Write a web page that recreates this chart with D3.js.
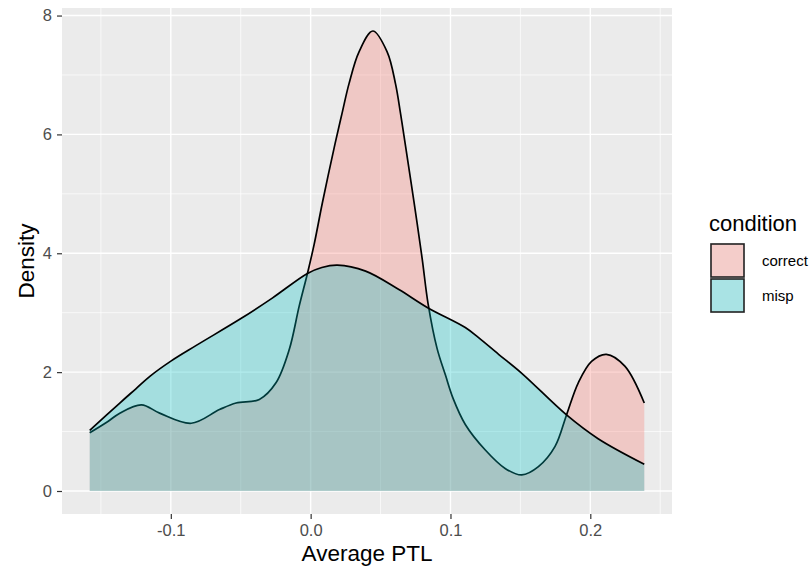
<!DOCTYPE html>
<html>
<head>
<meta charset="utf-8">
<script src="https://cdn.jsdelivr.net/npm/d3@7"></script>
<style>
  body { margin: 0; background: #fff; }
  svg { display: block; font-family: "Liberation Sans", Arial, Helvetica, sans-serif; }
</style>
</head>
<body>
<svg id="chart" width="811" height="569"></svg>
<script>
// ---- data ----
const conditions = ["correct", "misp"];
const fillColors = ["#F8766D", "#00BFC4"];

const correctX = [-0.158, -0.145, -0.1365, -0.121, -0.108, -0.0854, -0.0652, -0.0533, -0.0367, -0.0248, -0.0153, -0.0082, -0.0023, 0.0025, 0.0084, 0.0175, 0.0227, 0.0274, 0.0346, 0.0445, 0.0547, 0.0607, 0.0643, 0.0679, 0.0738, 0.0797, 0.084, 0.0904, 0.0964, 0.102, 0.1106, 0.1249, 0.1391, 0.151, 0.1629, 0.1748, 0.183, 0.1914, 0.2009, 0.2115, 0.2247, 0.2386];
const correctY = [0.98, 1.17, 1.31, 1.45, 1.31, 1.14, 1.37, 1.48, 1.54, 1.82, 2.38, 3.11, 3.66, 4.15, 4.85, 5.85, 6.38, 6.85, 7.39, 7.74, 7.39, 6.85, 6.35, 5.80, 4.88, 3.92, 3.15, 2.40, 1.95, 1.55, 1.12, 0.69, 0.38, 0.27, 0.41, 0.75, 1.28, 1.82, 2.18, 2.30, 2.10, 1.48];

const mispX = [-0.158, -0.1365, -0.125, -0.115, -0.0997, -0.0818, -0.0493, -0.0272, -0.0023, 0.008, 0.0191, 0.0393, 0.0631, 0.084, 0.1106, 0.1201, 0.1344, 0.151, 0.183, 0.2056, 0.2386];
const mispY = [1.02, 1.48, 1.72, 1.93, 2.19, 2.45, 2.91, 3.25, 3.66, 3.76, 3.80, 3.70, 3.39, 3.08, 2.75, 2.58, 2.30, 1.98, 1.28, 0.88, 0.45];

const xTicks = [-0.1, 0.0, 0.1, 0.2];
const xTickLabels = ["-0.1", "0.0", "0.1", "0.2"];
const xMinor = [-0.15, -0.05, 0.05, 0.15, 0.25];
const yTicks = [0, 2, 4, 6, 8];
const yTickLabels = ["0", "2", "4", "6", "8"];
const yMinor = [1, 3, 5, 7];

const xTitle = "Average PTL";
const yTitle = "Density";
const legendTitle = "condition";

// ---- layout ----
const svg = d3.select("#chart");
const panel = { left: 62, right: 672, top: 8, bottom: 514 };

const xMin = -0.158, xMax = 0.2386;
const xPad = (xMax - xMin) * 0.05;
const x = d3.scaleLinear().domain([xMin - xPad, xMax + xPad]).range([panel.left, panel.right]);
const yTop = 7.74, yPad = yTop * 0.05;
const y = d3.scaleLinear().domain([-yPad, yTop + yPad]).range([panel.bottom, panel.top]);

// panel background
svg.append("rect")
  .attr("x", panel.left).attr("y", panel.top)
  .attr("width", panel.right - panel.left).attr("height", panel.bottom - panel.top)
  .attr("fill", "#EBEBEB");

const grid = svg.append("g");
xMinor.forEach(v => grid.append("line")
  .attr("x1", x(v)).attr("x2", x(v)).attr("y1", panel.top).attr("y2", panel.bottom)
  .attr("stroke", "#fff").attr("stroke-width", 0.7));
yMinor.forEach(v => grid.append("line")
  .attr("y1", y(v)).attr("y2", y(v)).attr("x1", panel.left).attr("x2", panel.right)
  .attr("stroke", "#fff").attr("stroke-width", 0.7));
xTicks.forEach(v => grid.append("line")
  .attr("x1", x(v)).attr("x2", x(v)).attr("y1", panel.top).attr("y2", panel.bottom)
  .attr("stroke", "#fff").attr("stroke-width", 1.4));
yTicks.forEach(v => grid.append("line")
  .attr("y1", y(v)).attr("y2", y(v)).attr("x1", panel.left).attr("x2", panel.right)
  .attr("stroke", "#fff").attr("stroke-width", 1.4));

// densities
const series = [
  { name: conditions[0], xs: correctX, ys: correctY, color: fillColors[0] },
  { name: conditions[1], xs: mispX, ys: mispY, color: fillColors[1] }
];

const curve = d3.curveCatmullRom.alpha(0.5);
const area = d3.area()
  .x(d => x(d[0])).y0(y(0)).y1(d => y(d[1]))
  .curve(curve);
const line = d3.line()
  .x(d => x(d[0])).y(d => y(d[1]))
  .curve(curve);

series.forEach(s => {
  const pts = s.xs.map((v, i) => [v, s.ys[i]]);
  const g = svg.append("g");
  g.append("path").attr("d", area(pts))
    .attr("fill", s.color).attr("fill-opacity", 0.3).attr("stroke", "none");
  g.append("path").attr("d", line(pts))
    .attr("fill", "none").attr("stroke", "#000").attr("stroke-width", 1.7);
});

// axes
const xAxis = d3.axisBottom(x).tickValues(xTicks)
  .tickFormat((d, i) => xTickLabels[i]).tickSize(5).tickPadding(5);
const gx = svg.append("g").attr("transform", `translate(0,${panel.bottom})`).call(xAxis);
gx.select(".domain").remove();
gx.selectAll(".tick line").attr("stroke", "#333333").attr("stroke-width", 1.2);
gx.selectAll(".tick text").attr("fill", "#4D4D4D").attr("font-size", 16.5)
  .attr("font-family", "Liberation Sans, Arial, sans-serif");

const yAxis = d3.axisLeft(y).tickValues(yTicks)
  .tickFormat((d, i) => yTickLabels[i]).tickSize(5).tickPadding(5);
const gy = svg.append("g").attr("transform", `translate(${panel.left},0)`).call(yAxis);
gy.select(".domain").remove();
gy.selectAll(".tick line").attr("stroke", "#333333").attr("stroke-width", 1.2);
gy.selectAll(".tick text").attr("fill", "#4D4D4D").attr("font-size", 16.5)
  .attr("font-family", "Liberation Sans, Arial, sans-serif");

// axis titles
svg.append("text")
  .attr("x", (panel.left + panel.right) / 2).attr("y", 561)
  .attr("text-anchor", "middle").attr("font-size", 22.5).attr("fill", "#000")
  .text(xTitle);
svg.append("text")
  .attr("transform", `translate(34,${(panel.top + panel.bottom) / 2}) rotate(-90)`)
  .attr("text-anchor", "middle").attr("font-size", 22.5).attr("fill", "#000")
  .text(yTitle);

// legend
const leg = svg.append("g");
leg.append("text").attr("x", 709).attr("y", 231)
  .attr("font-size", 22).attr("fill", "#000").text(legendTitle);
const keyX = 710, keyY0 = 243, keySize = 35;
series.forEach((s, i) => {
  const ky = keyY0 + i * keySize;
  leg.append("rect").attr("x", keyX).attr("y", ky).attr("width", keySize).attr("height", keySize)
    .attr("fill", "#F2F2F2");
  leg.append("rect").attr("x", keyX + 1).attr("y", ky + 1).attr("width", keySize - 2).attr("height", keySize - 2)
    .attr("fill", s.color).attr("fill-opacity", 0.3)
    .attr("stroke", "#222").attr("stroke-width", 1.6);
  leg.append("text").attr("x", 762).attr("y", ky + keySize / 2 + 5)
    .attr("font-size", 15).attr("fill", "#000").text(s.name);
});
</script>
</body>
</html>
